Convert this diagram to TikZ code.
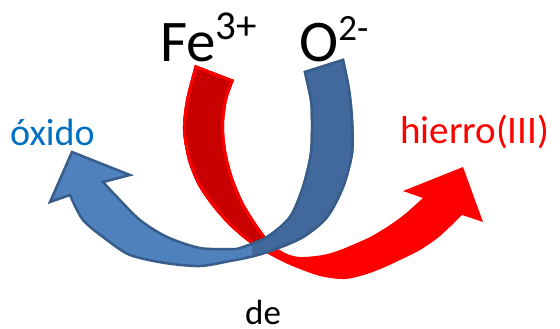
\documentclass[tikz,border=0pt]{standalone}
\usepackage{fontspec}
\setmainfont{Carlito}

\definecolor{arrowred}{HTML}{FF0000}
\definecolor{arrowdarkred}{HTML}{C80000}
\definecolor{arrowblue}{HTML}{4F81BD}
\definecolor{arrowdarkblue}{HTML}{42699B}
\definecolor{blueline}{HTML}{385D8A}
\definecolor{textblue}{HTML}{0070C0}

\begin{document}
\begin{tikzpicture}[x=1pt,y=-1pt,
  txt/.style={inner sep=0pt,anchor=base west}]
\useasboundingbox (0,0) rectangle (560,329);

% Red arrow (Fe -> hierro)
\path[save path=\redpath]
plot[smooth] coordinates {(195,65) (186,100) (183,130) (188,160) (198,185)
  (213,207) (230,226) (250,243) (270,255) (290,265) (320,276) (345,279)
  (367,274) (385,267) (400,260) (420,250) (440,236) (462,215)}
-- (483,222) -- (463,167) -- (403,191)
-- plot[smooth] coordinates {(423,198) (405,214) (390,225) (372,236) (357,243)
  (340,250) (323,255) (300,257) (285,253) (270,242) (255,222) (242,200)
  (232,175) (226,150) (224,125) (227,100) (234,80)}
-- cycle;
\fill[arrowred,use path=\redpath];

% back face of the red arrow
\begin{scope}
\clip (150,40) -- (320,40) -- (320,190) -- (225,285) -- (150,285) -- cycle;
\clip[use path=\redpath];
\path[use path=\redpath,fill=arrowdarkred,draw=arrowred,line width=6];
\end{scope}

% Blue arrow (O -> oxido)
\path[save path=\bluepath]
plot[smooth] coordinates {(343,60) (349,90) (352,120) (352,153) (343,187)
  (327,217) (303,237) (273,250) (250,257) (230,261) (200,266) (165,263)
  (130,255) (107,240) (83,220) (70,195)}
-- (50,202) -- (72,152) -- (130,175)
-- plot[smooth] coordinates {(103,182) (117,197) (140,220) (167,237) (200,248)
  (230,249) (240,248) (267,237) (290,217) (303,187) (311,153) (312,120)
  (311,100) (305,72)}
-- cycle;
\path[use path=\bluepath,fill=arrowblue,draw=blueline,line width=2.5];

% back face of the blue arrow
\begin{scope}
\clip (252,0) rectangle (560,329);
\path[use path=\bluepath,fill=arrowdarkblue,draw=blueline,line width=2.5];
\end{scope}

% Labels
\node[txt] (fe) at (160,62)
  {\fontsize{59}{59}\selectfont Fe\raisebox{22pt}{\fontsize{41}{41}\selectfont 3+}};
\node[txt] (oxy) at (299,62)
  {\fontsize{59}{59}\selectfont O\raisebox{21pt}{\fontsize{37}{37}\selectfont 2-}};
\node[txt,textblue] (oxido) at (10,145) {\fontsize{38}{38}\selectfont óxido};
\node[txt,arrowred] (hierro) at (400,143) {\fontsize{39}{39}\selectfont hierro(III)};
\node[txt] (de) at (245,324) {\fontsize{35}{35}\selectfont de};

\end{tikzpicture}
\end{document}
